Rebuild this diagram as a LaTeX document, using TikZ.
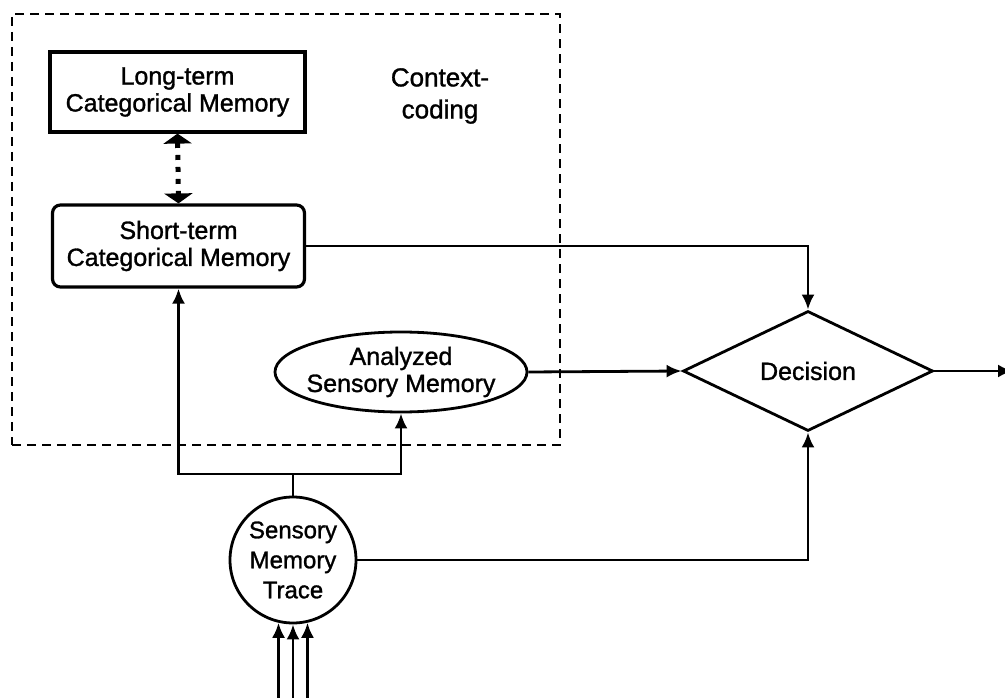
\documentclass[tikz,border=0pt]{standalone}
\usepackage{fontspec}
\setmainfont{Liberation Sans}
\newfontfamily\semibf{Liberation Sans}[FakeBold=1.2]
\usetikzlibrary{arrows.meta,shapes.geometric}
\begin{document}
\begin{tikzpicture}[x=1pt,y=-1pt,line width=2.8pt,
  lbl/.style={font=\semibf\fontsize{25}{27}\selectfont,align=center},
  box/.style={draw,rectangle,line width=3.2pt,minimum width=255pt,minimum height=80pt,inner sep=0pt,lbl},
  arr/.style={-{Latex[length=15pt,width=13pt]}},
  dotarr/.style={{Triangle[length=10pt,width=28pt]}-{Triangle[length=10pt,width=28pt]},line width=5pt,dash pattern=on 5pt off 7pt}]
\useasboundingbox (0,0) rectangle (1005,698);
\node[draw,dashed,line width=1.8pt,dash pattern=on 9pt off 6pt,minimum width=548pt,minimum height=431pt] (ctx) at (286,229.5) {};
\node[box] (ltm) at (177.5,92) {Long-term\\Categorical Memory};
\node[box,rounded corners=8pt,minimum width=252pt,minimum height=82pt] (stm) at (178.5,246) {Short-term\\Categorical Memory};
\node[lbl,font=\semibf\fontsize{26}{32}\selectfont] (cc) at (440,96) {Context-\\coding};
\node[draw,ellipse,minimum width=252pt,minimum height=80pt,inner sep=0pt,label={[lbl]center:Analyzed\\Sensory Memory}] (asm) at (401,372) {};
\node[draw,diamond,minimum width=250pt,minimum height=120pt,inner sep=0pt,lbl] (dec) at (808,371) {Decision};
\node[draw,circle,minimum size=126pt,inner sep=0pt,label={[lbl,font=\semibf\fontsize{24}{30}\selectfont]center:Sensory\\Memory\\Trace}] (smt) at (293,560) {};
\coordinate (j) at (293,474);
\coordinate (out) at (1013,371);
\draw[dotarr] (ltm.south) -- (stm.north);
\draw (smt.north) -- (j);
\draw[arr] (j) -| (stm.south);
\draw[arr] (j) -| (asm.south);
\draw[arr] (stm.east) -| (dec.north);
\draw[arr] (asm.east) -- (dec.west);
\draw[arr] (smt.east) -| (dec.south);
\draw[arr] (dec.east) -- (out);
\coordinate (i1) at (smt.257 |- 0,700);
\coordinate (i2) at (smt.south |- 0,700);
\coordinate (i3) at (smt.283 |- 0,700);
\draw[arr] (i1) -- (smt.257);
\draw[arr] (i2) -- (smt.south);
\draw[arr] (i3) -- (smt.283);
\end{tikzpicture}
\end{document}
